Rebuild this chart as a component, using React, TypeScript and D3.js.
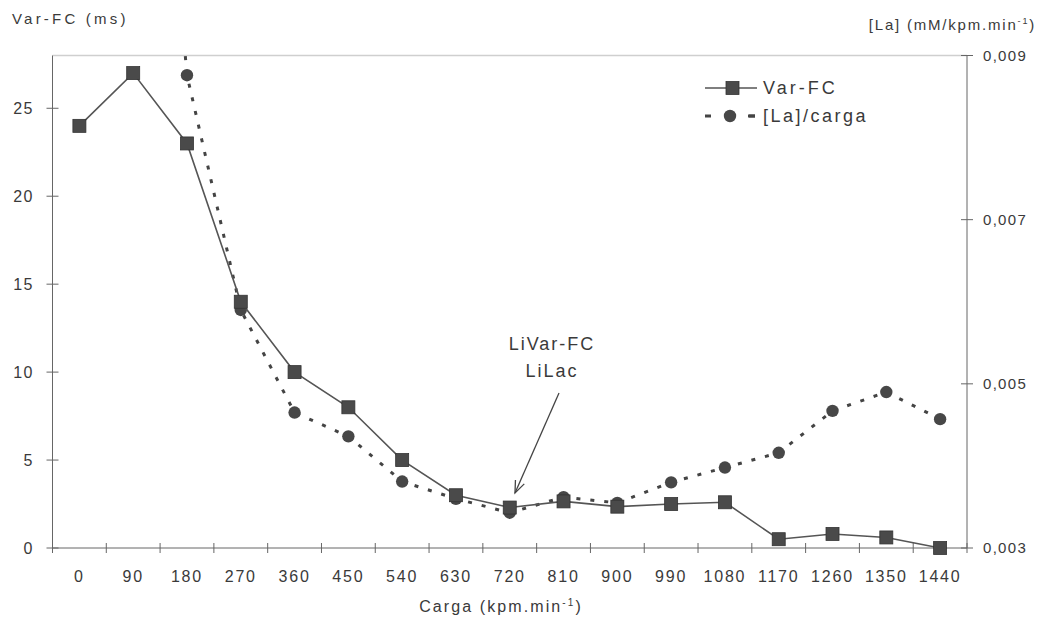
import React from "react";
import * as d3 from "d3";

// carga (kpm.min-1) categories
const cargas = [0, 90, 180, 270, 360, 450, 540, 630, 720, 810, 900, 990, 1080, 1170, 1260, 1350, 1440];
// Var-FC (ms), left axis
const varFC = [24, 27, 23, 14, 10, 8, 5, 3, 2.3, 2.65, 2.35, 2.5, 2.6, 0.5, 0.8, 0.6, 0];
// [La]/carga (mM/kpm.min-1), right axis; value at 90 is off the chart
const laCarga = [null, 0.0163, 0.00876, 0.0059, 0.00465, 0.00436, 0.00381, 0.0036, 0.00343, 0.00362, 0.00355, 0.0038, 0.00398, 0.00416, 0.00467, 0.0049, 0.00457];
const leftTicks = [0, 5, 10, 15, 20, 25];
const rightTicks = [0.003, 0.005, 0.007, 0.009];

const W = 1039;
const H = 619;
const left = 52.5;
const right = 967;
const top = 55.5;
const bottom = 548;

const font = "'Liberation Sans', Arial, sans-serif";
const textColor = "#3a3a3a";
const axisColor = "#666";

export default function App() {
  const x = d3.scaleBand<number>().domain(cargas).range([left, right]).padding(0);
  const yL = d3.scaleLinear().domain([0, 28]).range([bottom, top]);
  const yR = d3.scaleLinear().domain([0.003, 0.009]).range([bottom, top]);
  const cx = (c: number) => (x(c) as number) + x.bandwidth() / 2;

  const varLine = d3
    .line<number>()
    .x((_, i) => cx(cargas[i]))
    .y((d) => yL(d));

  const laLine = d3
    .line<number | null>()
    .defined((d) => d != null)
    .x((_, i) => cx(cargas[i]))
    .y((d) => yR(d as number));

  const boundaries = d3.range(cargas.length + 1).map((i) => left + i * x.bandwidth());
  const fmtR = (v: number) => d3.format(".3f")(v).replace(".", ",");

  // arrow of the annotation
  const ax1 = 559, ay1 = 393, ax2 = 515, ay2 = 493;
  const ang = Math.atan2(ay2 - ay1, ax2 - ax1);
  const headLen = 13;
  const head = [ang + Math.PI - 0.38, ang + Math.PI + 0.38].map((a) => [
    ax2 + headLen * Math.cos(a),
    ay2 + headLen * Math.sin(a),
  ]);

  return (
    <div style={{ position: "absolute", left: 0, top: 0 }}>
      <svg width={W} height={H} viewBox={`0 0 ${W} ${H}`} style={{ display: "block", background: "#fff" }}>
        <defs>
          <clipPath id="plot">
            <rect x={left} y={top} width={right - left} height={bottom - top + 10} />
          </clipPath>
        </defs>

        {/* plot frame top */}
        <line x1={left} x2={right} y1={top} y2={top} stroke="#cfcfcf" strokeWidth={1.5} />

        {/* axes */}
        <line x1={left} x2={left} y1={top} y2={bottom} stroke={axisColor} />
        <line x1={right} x2={right} y1={top} y2={bottom} stroke={axisColor} />
        <line x1={left} x2={right} y1={bottom} y2={bottom} stroke={axisColor} />

        {boundaries.map((b, i) => (
          <line key={"xt" + i} x1={b} x2={b} y1={bottom - 5} y2={bottom + 5} stroke={axisColor} />
        ))}
        {cargas.map((c) => (
          <text key={"xl" + c} x={cx(c)} y={582} textAnchor="middle" fontFamily={font} fontSize={16} letterSpacing={1.8} fill={textColor}>
            {c}
          </text>
        ))}

        {leftTicks.map((t) => (
          <g key={"yl" + t}>
            <line x1={left - 6} x2={left + 6} y1={yL(t)} y2={yL(t)} stroke={axisColor} />
            <text x={34} y={yL(t)} dy="0.35em" textAnchor="end" fontFamily={font} fontSize={16} letterSpacing={1.5} fill={textColor}>
              {t}
            </text>
          </g>
        ))}

        {rightTicks.map((t) => (
          <g key={"yr" + t}>
            <line x1={right - 6} x2={right + 6} y1={yR(t)} y2={yR(t)} stroke={axisColor} />
            <text x={983} y={yR(t)} dy="0.35em" fontFamily={font} fontSize={15} letterSpacing={1.3} fill={textColor}>
              {fmtR(t)}
            </text>
          </g>
        ))}

        {/* axis titles */}
        <text x={12} y={24} fontFamily={font} fontSize={15} letterSpacing={3.2} fill={textColor}>
          Var-FC (ms)
        </text>
        <text x={1036} y={30} textAnchor="end" fontFamily={font} fontSize={15} letterSpacing={1.8} fill={textColor}>
          [La] (mM/kpm.min<tspan dy={-6} fontSize={9}>-1</tspan>
          <tspan dy={6}>)</tspan>
        </text>
        <text x={501} y={612} textAnchor="middle" fontFamily={font} fontSize={16} letterSpacing={2.1} fill={textColor}>
          Carga (kpm.min<tspan dy={-6} fontSize={10}>-1</tspan>
          <tspan dy={6}>)</tspan>
        </text>

        {/* [La]/carga series */}
        <g clipPath="url(#plot)">
          <path d={laLine(laCarga) || ""} fill="none" stroke="#444" strokeWidth={3} strokeDasharray="4,10" />
          {laCarga.map((v, i) =>
            v == null ? null : <circle key={"c" + i} cx={cx(cargas[i])} cy={yR(v)} r={6.2} fill="#474747" />
          )}
        </g>

        {/* Var-FC series */}
        <path d={varLine(varFC) || ""} fill="none" stroke="#555" strokeWidth={1.6} />
        {varFC.map((v, i) => (
          <rect key={"s" + i} x={cx(cargas[i]) - 6.5} y={yL(v) - 6.5} width={13} height={13} fill="#4a4a4a" stroke="#333" strokeWidth={0.8} />
        ))}

        {/* annotation */}
        <text x={552} y={350} textAnchor="middle" fontFamily={font} fontSize={18} letterSpacing={2} fill={textColor}>
          LiVar-FC
        </text>
        <text x={552} y={377} textAnchor="middle" fontFamily={font} fontSize={18} letterSpacing={2} fill={textColor}>
          LiLac
        </text>
        <line x1={ax1} y1={ay1} x2={ax2} y2={ay2} stroke="#444" strokeWidth={1.3} />
        <polyline
          points={`${head[0][0]},${head[0][1]} ${ax2},${ay2} ${head[1][0]},${head[1][1]}`}
          fill="none"
          stroke="#444"
          strokeWidth={1.3}
        />

        {/* legend */}
        <line x1={705} x2={757} y1={88} y2={88} stroke="#555" strokeWidth={1.6} />
        <rect x={726} y={81.5} width={13} height={13} fill="#4a4a4a" stroke="#333" strokeWidth={0.8} />
        <text x={763} y={88} dy="0.35em" fontFamily={font} fontSize={18} letterSpacing={3} fill={textColor}>
          Var-FC
        </text>
        <line x1={705} x2={757} y1={116} y2={116} stroke="#444" strokeWidth={3} strokeDasharray="6,38" />
        <circle cx={730} cy={116} r={6.2} fill="#474747" />
        <line x1={748} x2={755} y1={116} y2={116} stroke="#444" strokeWidth={3} />
        <text x={763} y={116} dy="0.35em" fontFamily={font} fontSize={18} letterSpacing={2.5} fill={textColor}>
          [La]/carga
        </text>
      </svg>
    </div>
  );
}
